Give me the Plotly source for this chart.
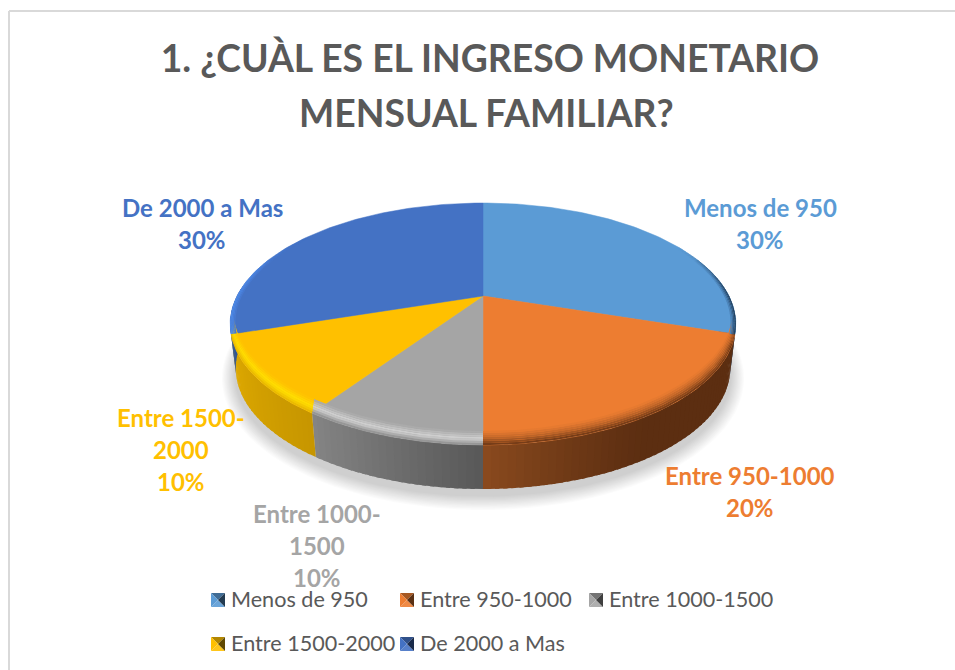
import numpy as np
import plotly.graph_objects as go

CATEGORIES = ["Menos de 950", "Entre 950-1000", "Entre 1000-1500", "Entre 1500-2000", "De 2000 a Mas"]
VALUES = [30, 20, 9.5, 10.5, 30]
PERCENT_TEXT = ["30%", "20%", "10%", "10%", "30%"]
COLORS = ["#5B9BD5", "#ED7D31", "#A5A5A5", "#FFC000", "#4472C4"]
LABEL_LINES = [["Menos de 950"], ["Entre 950-1000"], ["Entre 1000-", "1500"], ["Entre 1500-", "2000"], ["De 2000 a Mas"]]
TITLE_LINES = ["1. ¿CUÀL ES EL INGRESO MONETARIO", "MENSUAL FAMILIAR?"]

# layout (pixels)
FONT = "Lato"
CX, CY, W, H, K = 483.0, 296.0, 246.0, 114.5, 0.2314
DEPTH = 44.0
BEVEL_H = 14.0
LABEL_POS = [(760, 207), (750, 475), (317, 513), (181, 417), (202, 207)]
LEGEND_POS = [(211, 600), (400, 600), (589, 600), (211, 644), (400, 644)]
SWATCH = 7


def project(theta_deg, r=1.0, down=0.0, scale=1.0):
    t = np.radians(np.asarray(theta_deg, dtype=float))
    X, Y = r * np.sin(t), r * np.cos(t)
    den = 1 + K * Y
    return CX + scale * W * X / den, CY - H * Y / den + down


def rgb(h):
    return np.array([int(h[i:i + 2], 16) for i in (1, 3, 5)], dtype=float)


def mix(a, b, t):
    c = rgb(a) * (1 - t) + rgb(b) * t
    return "#%02X%02X%02X" % tuple(int(v) for v in c.round())


fig = go.Figure()


def poly(x, y, color, w=0.0):
    fig.add_trace(go.Scatter(x=list(x), y=list(y), mode="lines", fill="toself", fillcolor=color,
                             line=dict(color=color, width=w), hoverinfo="skip", showlegend=False))


edges = np.cumsum([0] + VALUES) / sum(VALUES) * 360.0

# soft shadow underneath
full = np.linspace(0, 360, 181)
for i in range(12):
    grow = 14 - i * 1.2
    sx, sy = project(full, down=DEPTH + 7, scale=0.98)
    sx = CX + (sx - CX) * (1 + grow / 260)
    sy = 335 + (sy - 335) * (1 + grow / 160)
    poly(sx, sy, "rgba(0,0,0,0.016)")

# side wall shades along the rim: (start colour, end colour) per slice
WALL = [("#1F3A55", "#2A4A6A"), ("#5C2E11", "#8A4A1E"), ("#585858", "#858585"),
        ("#C69600", "#E0AA00"), ("#2F5597", "#2F5597")]


def wall_color(i, th):
    a, b = edges[i], edges[i + 1]
    t = (th - a) / (b - a)
    if i == 1:
        t = max(0.0, (t - 0.55) / 0.45) ** 1.3
    return mix(WALL[i][0], WALL[i][1], t)


STEP = 1.5
for i in range(5):
    a, b = edges[i], edges[i + 1]
    lo, hi = max(a, 70.0), min(b, 275.0)
    if hi <= lo:
        continue
    grid = np.arange(lo, hi + 1e-6, STEP)
    if grid[-1] < hi:
        grid = np.append(grid, hi)
    for t0, t1 in zip(grid[:-1], grid[1:]):
        seg = np.linspace(t0, min(t1 + 0.8, hi), 3)
        ux, uy = project(seg)
        lx, ly = project(seg[::-1], down=DEPTH, scale=0.978)
        poly(np.r_[ux, lx], np.r_[uy, ly], wall_color(i, (t0 + t1) / 2))

# top faces
for i in range(5):
    arc = np.linspace(edges[i], edges[i + 1], 90)
    ax, ay = project(arc)
    poly(np.r_[CX, ax, CX], np.r_[CY, ay, CY], COLORS[i], 0.5)

# bevel: bands stacked above the front rim, from rim (t=0) up to the flat face (t=1)
BEVEL = [
    [(0.0, "#24415E"), (0.5, "#3F6F9F"), (1.0, "#5B9BD5")],
    [(0.0, "#6B3715"), (0.55, "#C4682A"), (1.0, "#ED7D31")],
    [(0.0, "#8C8C8C"), (0.45, "#D2D2D2"), (1.0, "#A5A5A5")],
    [(0.0, "#E6B400"), (0.45, "#FFE000"), (1.0, "#FFC000")],
    [(0.0, "#4F8BE8"), (0.5, "#4A80DC"), (1.0, "#4472C4")],
]


def bevel_color(i, t):
    stops = BEVEL[i]
    for (t0, c0), (t1, c1) in zip(stops[:-1], stops[1:]):
        if t <= t1:
            return mix(c0, c1, (t - t0) / (t1 - t0))
    return stops[-1][1]


BANDS = 7
for i in range(1, 4):
    arc = np.linspace(edges[i], edges[i + 1], 60)
    for j in range(BANDS):
        d0, d1 = j / BANDS, (j + 1) / BANDS
        ox, oy = project(arc, down=-BEVEL_H * d0, scale=1 - 0.012 * d0)
        nx, ny = project(arc[::-1], down=-BEVEL_H * d1, scale=1 - 0.012 * d1)
        poly(np.r_[ox, nx], np.r_[oy, ny], bevel_color(i, (d0 + d1) / 2))

# thin rim bands on the two large back slices, fading towards the back
RIM_SPANS = [(0, 62.0, edges[1]), (4, edges[4], 305.0)]
for i, lo, hi in RIM_SPANS:
    arc = np.linspace(lo, hi, 40)
    for j in range(4):
        r0, r1 = 1 - j * 0.005, 1 - (j + 1) * 0.005
        for t0, t1 in zip(arc[:-1], arc[1:]):
            seg = np.array([t0, t1 + 0.2])
            fade = (t0 - lo) / (hi - lo) if i == 0 else (hi - t0) / (hi - lo)
            colour = mix(COLORS[i], bevel_color(i, j / 4), min(1.0, fade * 2.0))
            ox, oy = project(seg, r=r0)
            nx, ny = project(seg[::-1], r=r1)
            poly(np.r_[ox, nx], np.r_[oy, ny], colour)

annotations = []

# title second line
annotations.append(dict(x=486, y=112, text="<b>%s</b>" % TITLE_LINES[1], showarrow=False, xref="x", yref="y",
                        xanchor="center", yanchor="middle", font=dict(family=FONT, size=37.3, color="#595959")))

# data labels
for i in range(5):
    lines = LABEL_LINES[i] + [PERCENT_TEXT[i]]
    for n, line in enumerate(lines):
        annotations.append(dict(x=LABEL_POS[i][0], y=LABEL_POS[i][1] + n * 32.3, text="<b>%s</b>" % line,
                                showarrow=False, xref="x", yref="y", xanchor="center", yanchor="middle",
                                font=dict(family=FONT, size=24, color=COLORS[i])))

# frame and legend
shapes = [
    dict(type="line", xref="x", yref="y", x0=9, x1=955, y0=11, y1=11, line=dict(color="#D9D9D9", width=2)),
    dict(type="line", xref="x", yref="y", x0=9, x1=9, y0=11, y1=670, line=dict(color="#D9D9D9", width=2)),
]
for i in range(5):
    lx, ly = LEGEND_POS[i]
    s = SWATCH
    l, r, t, b = lx, lx + 2 * s, ly - s, ly + s
    mx, my = lx + s, ly
    faces = [
        ("M %g %g L %g %g L %g %g Z" % (l, t, r, t, mx, my), mix(COLORS[i], "#000000", 0.30)),
        ("M %g %g L %g %g L %g %g Z" % (l, b, r, b, mx, my), mix(COLORS[i], "#FFFFFF", 0.10)),
        ("M %g %g L %g %g L %g %g Z" % (l, t, l, b, mx, my), COLORS[i]),
        ("M %g %g L %g %g L %g %g Z" % (r, t, r, b, mx, my), mix(COLORS[i], "#000000", 0.62)),
    ]
    for path, c in faces:
        shapes.append(dict(type="path", xref="x", yref="y", path=path, fillcolor=c, line=dict(width=0)))
    annotations.append(dict(x=lx + 17.5, y=ly - 1, text=CATEGORIES[i], showarrow=False, xref="x", yref="y",
                            xanchor="left", yanchor="middle", font=dict(family=FONT, size=21.6, color="#595959")))

fig.update_layout(
    width=955, height=670, margin=dict(l=0, r=0, t=0, b=0), autosize=False,
    paper_bgcolor="#FFFFFF", plot_bgcolor="#FFFFFF", showlegend=False,
    title=dict(text="<b>%s</b>" % TITLE_LINES[0], x=490 / 955, xanchor="center", xref="paper",
               y=1 - 59 / 670, yanchor="middle", yref="paper",
               font=dict(family=FONT, size=37.3, color="#595959")),
    xaxis=dict(range=[0, 955], visible=False, fixedrange=True),
    yaxis=dict(range=[670, 0], visible=False, fixedrange=True),
    annotations=annotations, shapes=shapes,
)
fig.write_html("out.html", config=dict(displayModeBar=False),
               post_script="document.body.style.margin='0';document.body.style.overflow='hidden';")
